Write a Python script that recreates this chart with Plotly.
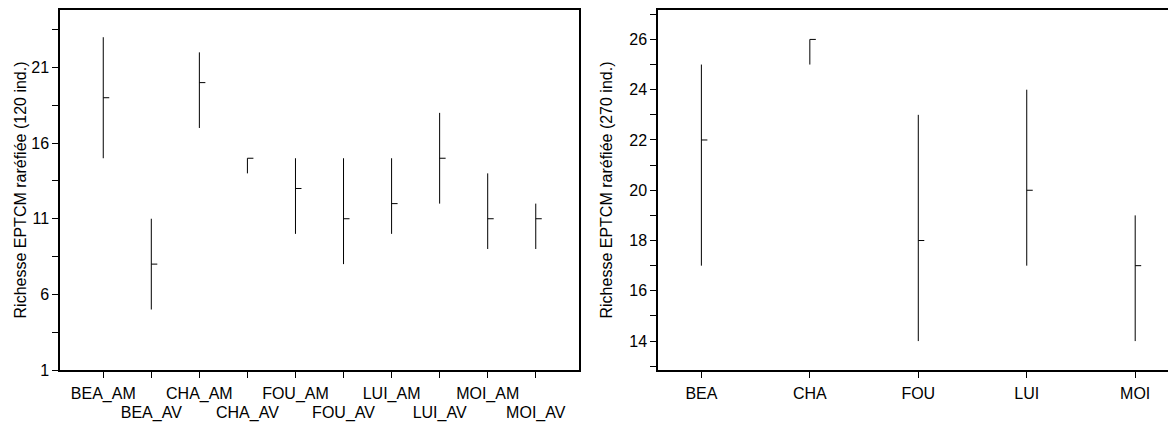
import plotly.graph_objects as go

# ---- data ----
sites_left = ["BEA_AM", "BEA_AV", "CHA_AM", "CHA_AV", "FOU_AM", "FOU_AV",
              "LUI_AM", "LUI_AV", "MOI_AM", "MOI_AV"]
left_low = [15, 5, 17, 14, 10, 8, 10, 12, 9, 9]
left_mid = [19, 8, 20, 15, 13, 11, 12, 15, 11, 11]
left_high = [23, 11, 22, 15, 15, 15, 15, 18, 14, 12]

sites_right = ["BEA", "CHA", "FOU", "LUI", "MOI"]
right_low = [17, 25, 14, 17, 14]
right_mid = [22, 26, 18, 20, 17]
right_high = [25, 26, 23, 24, 19]

left_major = [1, 6, 11, 16, 21]
left_minor = [3.5, 8.5, 13.5, 18.5, 23.5]
right_major = [14, 16, 18, 20, 22, 24, 26]
right_minor = [13, 15, 17, 19, 21, 23, 25, 27]

W, H = 1176, 423
FONT = "Liberation Sans, Arial, sans-serif"
FS = 16

fig = go.Figure()

def add_panel(xa, ya, low, mid, high, tick_dx):
    xs, ys = [], []
    for i, (lo, hi) in enumerate(zip(low, high)):
        xs += [i, i, None]
        ys += [lo, hi, None]
    fig.add_trace(go.Scatter(x=xs, y=ys, mode="lines", xaxis=xa, yaxis=ya,
                             line=dict(color="black", width=1), showlegend=False,
                             hoverinfo="skip"))
    xs, ys = [], []
    for i, m in enumerate(mid):
        xs += [i, i + tick_dx, None]
        ys += [m, m, None]
    fig.add_trace(go.Scatter(x=xs, y=ys, mode="lines", xaxis=xa, yaxis=ya,
                             line=dict(color="black", width=1), showlegend=False,
                             hoverinfo="skip"))

# pixel geometry (figure coords; page body adds an 8px offset)
L1, R1 = 52, 571
L2 = 650
TOP, BOT = 2, 362
left_xrange = [-0.9, 9.9]
right_xrange = [-0.4, 4.45]
dx_left = 6 * (left_xrange[1] - left_xrange[0]) / (R1 - L1)
dx_right = 6 * (right_xrange[1] - right_xrange[0]) / (W - L2)

add_panel("x", "y", left_low, left_mid, left_high, dx_left)
add_panel("x2", "y2", right_low, right_mid, right_high, dx_right)

idx_left = list(range(len(sites_left)))
odd_idx = idx_left[1::2]

axis_common = dict(showgrid=False, zeroline=False, showline=True, linecolor="black",
                   linewidth=1.5, ticks="outside", ticklen=6, tickcolor="black",
                   tickwidth=1, automargin=False,
                   tickfont=dict(family=FONT, size=FS, color="black"))

fig.update_layout(
    width=W, height=H,
    margin=dict(l=0, r=0, t=TOP, b=H - BOT),
    paper_bgcolor="white", plot_bgcolor="white",
    font=dict(family=FONT, size=FS, color="black"),
    xaxis=dict(domain=[L1 / W, R1 / W], range=left_xrange, mirror=True, tickangle=0,
               tickvals=idx_left,
               ticktext=[s if i % 2 == 0 else "" for i, s in enumerate(sites_left)],
               ticklabelstandoff=2,
               **axis_common),
    xaxis3=dict(domain=[L1 / W, R1 / W], range=left_xrange, overlaying="x", anchor="y",
                side="bottom", showgrid=False, zeroline=False, showline=False,
                ticks="outside", ticklen=6, tickcolor="rgba(0,0,0,0)", tickangle=0,
                automargin=False, tickvals=odd_idx,
                ticktext=[sites_left[i] for i in odd_idx], ticklabelstandoff=22,
                tickfont=dict(family=FONT, size=FS, color="black")),
    yaxis=dict(domain=[0, 1], range=[1, 24.8], mirror=True,
               tickvals=left_major + left_minor,
               ticktext=[str(v) for v in left_major] + [""] * len(left_minor),
               title=dict(text="Richesse EPTCM raréfiée (120 ind.)",
                          font=dict(family=FONT, size=FS), standoff=1),
               **axis_common),
    xaxis2=dict(domain=[L2 / W, 1.0], range=right_xrange, anchor="y2", mirror=True,
                tickangle=0,
                tickvals=list(range(len(sites_right))), ticktext=sites_right,
                ticklabelstandoff=2,
                **axis_common),
    yaxis2=dict(domain=[0, 1], range=[12.85, 27.17], anchor="x2", mirror=True,
                tickvals=right_major + right_minor,
                ticktext=[str(v) for v in right_major] + [""] * len(right_minor),
                title=dict(text="Richesse EPTCM raréfiée (270 ind.)",
                           font=dict(family=FONT, size=FS), standoff=13),
                **axis_common),
)
# invisible trace so the overlay axis is rendered
fig.add_trace(go.Scatter(x=[odd_idx[0]], y=[left_mid[odd_idx[0]]], xaxis="x3", yaxis="y",
                         mode="markers", marker=dict(opacity=0), showlegend=False,
                         hoverinfo="skip"))

fig.write_html("out.html")
